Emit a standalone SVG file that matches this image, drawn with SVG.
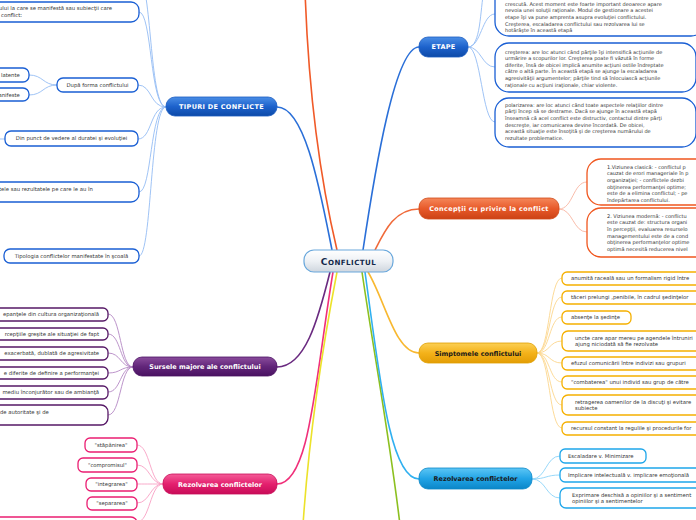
<svg xmlns="http://www.w3.org/2000/svg" width="696" height="520" viewBox="0 0 696 520">
<defs>
<linearGradient id="gBlue" x1="0" y1="0" x2="0" y2="1"><stop offset="0" stop-color="#4a8ee6"/><stop offset="0.5" stop-color="#1d62cc"/><stop offset="1" stop-color="#0d4aa8"/></linearGradient>
<linearGradient id="gRed" x1="0" y1="0" x2="0" y2="1"><stop offset="0" stop-color="#f5875a"/><stop offset="0.5" stop-color="#e85a2a"/><stop offset="1" stop-color="#cc4215"/></linearGradient>
<linearGradient id="gYel" x1="0" y1="0" x2="0" y2="1"><stop offset="0" stop-color="#fcd055"/><stop offset="0.5" stop-color="#f4b21a"/><stop offset="1" stop-color="#e39d05"/></linearGradient>
<linearGradient id="gCyan" x1="0" y1="0" x2="0" y2="1"><stop offset="0" stop-color="#5cc6f5"/><stop offset="0.5" stop-color="#22a4e6"/><stop offset="1" stop-color="#0b86c8"/></linearGradient>
<linearGradient id="gPur" x1="0" y1="0" x2="0" y2="1"><stop offset="0" stop-color="#8a4c9c"/><stop offset="0.5" stop-color="#62267a"/><stop offset="1" stop-color="#4a1262"/></linearGradient>
<linearGradient id="gPink" x1="0" y1="0" x2="0" y2="1"><stop offset="0" stop-color="#f45c98"/><stop offset="0.5" stop-color="#e4206e"/><stop offset="1" stop-color="#c80c58"/></linearGradient>
<linearGradient id="gCen" x1="0" y1="0" x2="0" y2="1"><stop offset="0" stop-color="#ffffff"/><stop offset="0.5" stop-color="#eef1f5"/><stop offset="1" stop-color="#cfd6de"/></linearGradient>
</defs>
<style>
.t{font-family:"DejaVu Sans",Verdana,sans-serif;font-size:5.3px;fill:#333333}
.p{font-size:5px}
.m{font-family:"DejaVu Sans",Verdana,sans-serif;font-size:6.5px;font-weight:bold;text-anchor:middle}
.w{fill:#ffffff}
.d{fill:#1a1a1a}
.c{text-anchor:middle}
.e{text-anchor:end}
.bb{fill:#fff;stroke:#1a5fd4;stroke-width:1.3}
.br{fill:#fff;stroke:#f0561e;stroke-width:1.3}
.by{fill:#fff;stroke:#f5b000;stroke-width:1.3}
.bc{fill:#fff;stroke:#1ea6ea;stroke-width:1.3}
.bp{fill:#fff;stroke:#561866;stroke-width:1.3}
.bk{fill:#fff;stroke:#ea1e72;stroke-width:1.3}
.l{fill:none;stroke-width:1.6}
.s{fill:none;stroke-width:0.9}
</style>

<g id="connectors">
<path class="l" stroke="#f05a28" d="M337 250 C318 170 308 80 305 -10"/>
<path class="l" stroke="#2a6fd8" d="M277 107 C305 107 320 190 332 250"/>
<path class="l" stroke="#2a6fd8" d="M419 47 C395 47 375 170 363 250"/>
<path class="l" stroke="#f06a3a" d="M419 209 C395 209 385 230 375 250"/>
<path class="l" stroke="#6a2a80" d="M330 272 C318 320 305 367 277 367"/>
<path class="l" stroke="#f0307a" d="M333 272 C315 380 310 484 277 484"/>
<path class="l" stroke="#ece22a" d="M337 272 C320 360 308 450 303 525"/>
<path class="l" stroke="#8cc020" d="M362 272 C375 360 390 440 400 525"/>
<path class="l" stroke="#30b0f0" d="M365 272 C380 380 390 479 419 479"/>
<path class="l" stroke="#f8b830" d="M368 272 C385 300 395 353 419 353"/>

<g stroke="#94bcf4">
<path class="s" d="M166 107 C150 107 152 -5 140 -25"/>
<path class="s" d="M166 107 C150 107 152 12 139 12"/>
<path class="s" d="M166 107 C150 107 152 85 138 85"/>
<path class="s" d="M166 107 C150 107 152 139 138 139"/>
<path class="s" d="M166 107 C150 107 152 192 139 192"/>
<path class="s" d="M166 107 C150 107 152 256 139 256"/>
<path class="s" d="M57 85 C43 85 43 75 29 75"/>
<path class="s" d="M57 85 C43 85 43 95 29 95"/>
<path class="s" d="M5 139 L-5 139"/>
<path class="s" d="M468 47 C481 47 480 10 484 -10"/>
<path class="s" d="M468 47 C481 47 482 14 495 14"/>
<path class="s" d="M468 47 C481 47 482 67 495 67"/>
<path class="s" d="M468 47 C481 47 482 122 495 122"/>
</g>
<g stroke="#f8b4a0">
<path class="s" d="M559 209 C573 209 573 182 587 182"/>
<path class="s" d="M559 209 C573 209 573 232 587 232"/>
</g>
<g stroke="#fcd68c">
<path class="s" d="M537 353 C550 353 549 278 562 278"/>
<path class="s" d="M537 353 C550 353 549 297 562 297"/>
<path class="s" d="M537 353 C550 353 549 317 562 317"/>
<path class="s" d="M537 353 C550 353 549 341 562 341"/>
<path class="s" d="M537 353 C550 353 549 363 562 363"/>
<path class="s" d="M537 353 C550 353 549 382 562 382"/>
<path class="s" d="M537 353 C550 353 549 405 562 405"/>
<path class="s" d="M537 353 C550 353 549 428 562 428"/>
</g>
<g stroke="#8cd4f8">
<path class="s" d="M532 479 C546 479 546 456 560 456"/>
<path class="s" d="M532 479 C546 479 546 475 560 475"/>
<path class="s" d="M532 479 C546 479 546 498 560 498"/>
</g>
<g stroke="#b488c4">
<path class="s" d="M133 367 C120 367 121 314 108 314"/>
<path class="s" d="M133 367 C120 367 121 334 108 334"/>
<path class="s" d="M133 367 C120 367 121 353 108 353"/>
<path class="s" d="M133 367 C120 367 121 373 108 373"/>
<path class="s" d="M133 367 C120 367 121 392 108 392"/>
<path class="s" d="M133 367 C120 367 121 415 108 415"/>
</g>
<g stroke="#f8a0c4">
<path class="s" d="M163 484 C150 484 150 445 137 445"/>
<path class="s" d="M163 484 C150 484 150 465 137 465"/>
<path class="s" d="M163 484 C150 484 150 484 137 484"/>
<path class="s" d="M163 484 C150 484 150 503 137 503"/>
<path class="s" d="M163 484 C150 484 150 522 137 522"/>
</g>
</g>

<g id="central">
<rect x="304" y="250" width="89" height="22" rx="10" fill="url(#gCen)" stroke="#6aa8dc" stroke-width="1.2"/>
<text x="348.5" y="264.6" font-family="DejaVu Sans,Verdana,sans-serif" font-weight="bold" font-size="7.1" fill="#13294b" text-anchor="middle" letter-spacing="0.45"><tspan font-size="9.2">C</tspan>ONFLICTUL</text>
</g>

<g id="tipuri">
<rect x="166" y="97" width="111" height="19" rx="9" fill="url(#gBlue)" stroke="#1a5cc0" stroke-width="0.8"/>
<text class="m w" x="221.5" y="109" letter-spacing="0.3">TIPURI DE CONFLICTE</text>
</g>
<g id="tip-nivel"><rect class="bb" x="-20" y="2" width="159" height="20" rx="8"/><text class="t" x="-1" y="10">ului la care se manifestă sau subiecţii care</text><text class="t" x="1" y="16.5">conflict:</text></g>
<g id="tip-forma"><rect class="bb" x="57" y="78" width="81" height="14" rx="6"/><text class="t c" x="97.5" y="86.9">După forma conflictului</text></g>
<g id="tip-latente"><rect class="bb" x="-20" y="68" width="49" height="14" rx="6"/><text class="t" x="1" y="76.9">latente</text></g>
<g id="tip-manifeste"><rect class="bb" x="-20" y="88" width="49" height="13" rx="6"/><text class="t" x="-1.5" y="96.6">anifeste</text></g>
<g id="tip-durata"><rect class="bb" x="5" y="131" width="133" height="15" rx="6"/><text class="t c" x="71.5" y="140.4">Din punct de vedere al duratei şi evoluţiei</text></g>
<g id="tip-efecte"><rect class="bb" x="-20" y="182" width="159" height="20" rx="8"/><text class="t" x="-1" y="190.6">tele sau rezultatele pe care le au în</text></g>
<g id="tip-scoala"><rect class="bb" x="4" y="249" width="135" height="14" rx="6"/><text class="t c" x="71.5" y="257.9">Tipologia conflictelor manifestate în şcoală</text></g>

<g id="etape">
<rect x="419" y="37" width="49" height="20" rx="9" fill="url(#gBlue)" stroke="#1a5cc0" stroke-width="0.8"/>
<text class="m w" x="443.5" y="49.3" letter-spacing="0.3">ETAPE</text>
</g>
<g id="etapa-1"><rect class="bb" x="495" y="-20" width="210" height="56" rx="14" stroke-width="1.6"/>
<text class="t p" x="505" y="5.8">crescută. Acest moment este foarte important deoarece apare</text>
<text class="t p" x="505" y="12.4">nevoia unei soluţii raţionale. Modul de gestionare a acestei</text>
<text class="t p" x="505" y="19">etape îşi va pune amprenta asupra evoluţiei conflictului.</text>
<text class="t p" x="505" y="25.6">Creşterea, escaladarea conflictului sau rezolvarea lui se</text>
<text class="t p" x="505" y="32.2">hotărăşte în această etapă</text></g>
<g id="etapa-2"><rect class="bb" x="495" y="43" width="201" height="49" rx="14" stroke-width="1.6"/>
<text class="t p" x="505" y="53.5">creşterea: are loc atunci când părţile îşi intensifică acţiunile de</text>
<text class="t p" x="505" y="60.1">urmărire a scopurilor lor. Creşterea poate fi văzută în forme</text>
<text class="t p" x="505" y="66.7">diferite, însă de obicei implică anumite acţiuni ostile îndreptate</text>
<text class="t p" x="505" y="73.3">către o altă parte. În această etapă se ajunge la escaladarea</text>
<text class="t p" x="505" y="79.9">agresivităţii argumentelor; părţile tind să înlocuiască acţiunile</text>
<text class="t p" x="505" y="86.5">raţionale cu acţiuni iraţionale, chiar violente.</text></g>
<g id="etapa-3"><rect class="bb" x="495" y="98" width="201" height="49" rx="14" stroke-width="1.6"/>
<text class="t p" x="505" y="106.5">polarizarea: are loc atunci când toate aspectele relaţiilor dintre</text>
<text class="t p" x="505" y="113.2">părţi încep să se destrame. Dacă se ajunge în această etapă</text>
<text class="t p" x="505" y="119.9">înseamnă că acel conflict este distructiv, contactul dintre părţi</text>
<text class="t p" x="505" y="126.6">descreşte, iar comunicarea devine încordată. De obicei,</text>
<text class="t p" x="505" y="133.3">această situaţie este însoţită şi de creşterea numărului de</text>
<text class="t p" x="505" y="140">rezultate problematice.</text></g>

<g id="conceptii">
<rect x="419" y="198" width="140" height="21" rx="9" fill="url(#gRed)" stroke="#d04a18" stroke-width="0.8"/>
<text class="m w" x="489" y="211" letter-spacing="0.3">Concepţii cu privire la conflict</text>
</g>
<g id="viziune-clasica"><rect class="br" x="587" y="159" width="130" height="46" rx="14" stroke-width="1.6"/>
<text class="t p" x="607" y="168.5">1.Viziunea clasică: -  conflictul p</text>
<text class="t p" x="607" y="175.2">cauzat de erori manageriale în p</text>
<text class="t p" x="607" y="181.9">organizaţiei; -  conflictele dezbi</text>
<text class="t p" x="607" y="188.6">obţinerea performanţei optime; </text>
<text class="t p" x="607" y="195.3">este de a elimina conflictul; - pe</text>
<text class="t p" x="607" y="202">îndepărtarea conflictului.</text></g>
<g id="viziune-moderna"><rect class="br" x="587" y="208" width="130" height="49" rx="14" stroke-width="1.6"/>
<text class="t p" x="607" y="217.5">2. Viziunea modernă: -  conflictu</text>
<text class="t p" x="607" y="224.2">este cauzat de: structura organi</text>
<text class="t p" x="607" y="230.9">în percepţii, evaluarea resurselo</text>
<text class="t p" x="607" y="237.6">managementului este de a cond</text>
<text class="t p" x="607" y="244.3">obţinerea performanţelor optime</text>
<text class="t p" x="607" y="251">optimă necesită reducerea nivel</text></g>

<g id="simptomele">
<rect x="419" y="343" width="118" height="20" rx="9" fill="url(#gYel)" stroke="#e0a000" stroke-width="0.8"/>
<text class="m d" x="478" y="355.5">Simptomele conflictului</text>
</g>
<g id="simp-1"><rect class="by" x="562" y="272" width="150" height="13" rx="5"/><text class="t" x="571" y="280.4">anumită raceală sau un formalism rigid între</text></g>
<g id="simp-2"><rect class="by" x="562" y="291" width="150" height="13" rx="5"/><text class="t" x="571" y="299.4">tăceri prelungi ,penibile, în cadrul şedinţelor</text></g>
<g id="simp-3"><rect class="by" x="562" y="311" width="69" height="13" rx="5"/><text class="t" x="571" y="319.4">absenţe la şedinţe</text></g>
<g id="simp-4"><rect class="by" x="562" y="331" width="150" height="20" rx="6"/><text class="t" x="575" y="339.6">uncte care apar mereu pe agendele întruniri</text><text class="t" x="575" y="346.2">ajung niciodată să fie rezolvate</text></g>
<g id="simp-5"><rect class="by" x="562" y="357" width="150" height="13" rx="5"/><text class="t" x="571" y="365.4">efuzul comunicării între indivizi sau grupuri</text></g>
<g id="simp-6"><rect class="by" x="562" y="376" width="150" height="13" rx="5"/><text class="t" x="571" y="384.4">"combaterea" unui individ sau grup de către</text></g>
<g id="simp-7"><rect class="by" x="562" y="395" width="150" height="20" rx="6"/><text class="t" x="575" y="403.6">retragerea oamenilor de la discuţi şi evitare</text><text class="t" x="575" y="410.2">subiecte</text></g>
<g id="simp-8"><rect class="by" x="562" y="422" width="150" height="13" rx="5"/><text class="t" x="571" y="430.4">recursul constant la regulile şi procedurile for</text></g>

<g id="rezolvarea-dreapta">
<rect x="419" y="468" width="113" height="21" rx="9" fill="url(#gCyan)" stroke="#0a88c8" stroke-width="0.8"/>
<text class="m d" x="475.5" y="481">Rezolvarea conflictelor</text>
</g>
<g id="rez-1"><rect class="bc" x="560" y="449" width="86" height="14" rx="5"/><text class="t" x="568" y="457.9">Escaladare v. Minimizare</text></g>
<g id="rez-2"><rect class="bc" x="560" y="468" width="150" height="14" rx="5"/><text class="t" x="568" y="476.9">Implicare intelectuală v. implicare emoţională</text></g>
<g id="rez-3"><rect class="bc" x="560" y="488" width="150" height="20" rx="6"/><text class="t" x="572" y="497">Exprimare deschisă a opiniilor şi a sentiment</text><text class="t" x="572" y="503.4">opiniilor şi a sentimentelor</text></g>

<g id="sursele">
<rect x="133" y="357" width="144" height="19" rx="9" fill="url(#gPur)" stroke="#4a1262" stroke-width="0.8"/>
<text class="m w" x="205" y="369.2">Sursele majore ale conflictului</text>
</g>
<g id="surs-1"><rect class="bp" x="-20" y="308" width="128" height="13" rx="5"/><text class="t e" x="99" y="316.4">epanţele din cultura organizaţională</text></g>
<g id="surs-2"><rect class="bp" x="-20" y="328" width="128" height="12" rx="5"/><text class="t e" x="99" y="335.9">rcepţiile greşite ale situaţiei de fapt</text></g>
<g id="surs-3"><rect class="bp" x="-20" y="347" width="128" height="13" rx="5"/><text class="t e" x="99" y="355.4">exacerbată, dublată de agresivitate</text></g>
<g id="surs-4"><rect class="bp" x="-20" y="367" width="128" height="12" rx="5"/><text class="t e" x="99" y="374.9">e diferite de definire a performanţei</text></g>
<g id="surs-5"><rect class="bp" x="-20" y="386" width="128" height="13" rx="5"/><text class="t e" x="99" y="394.4">mediu înconjurător sau de ambianţă</text></g>
<g id="surs-6"><rect class="bp" x="-20" y="405" width="128" height="20" rx="7"/><text class="t" x="0" y="413.6">de autoritate şi de</text></g>

<g id="rezolvarea-stanga">
<rect x="163" y="474" width="114" height="20" rx="9" fill="url(#gPink)" stroke="#c80c58" stroke-width="0.8"/>
<text class="m w" x="220" y="486.5">Rezolvarea conflictelor</text>
</g>
<g id="stapanirea"><rect class="bk" x="85" y="438" width="52" height="14" rx="5"/><text class="t c" x="111" y="446.9">"stăpânirea"</text></g>
<g id="compromisul"><rect class="bk" x="78" y="458" width="59" height="14" rx="5"/><text class="t c" x="107.5" y="466.9">"compromisul"</text></g>
<g id="integrarea"><rect class="bk" x="86" y="478" width="51" height="13" rx="5"/><text class="t c" x="111.5" y="486.4">"integrarea"</text></g>
<g id="separarea"><rect class="bk" x="87" y="497" width="50" height="13" rx="5"/><text class="t c" x="112" y="505.4">"separarea"</text></g>
<g id="rez-altul"><rect class="bk" x="-20" y="517" width="157" height="20" rx="6"/></g>
</svg>
